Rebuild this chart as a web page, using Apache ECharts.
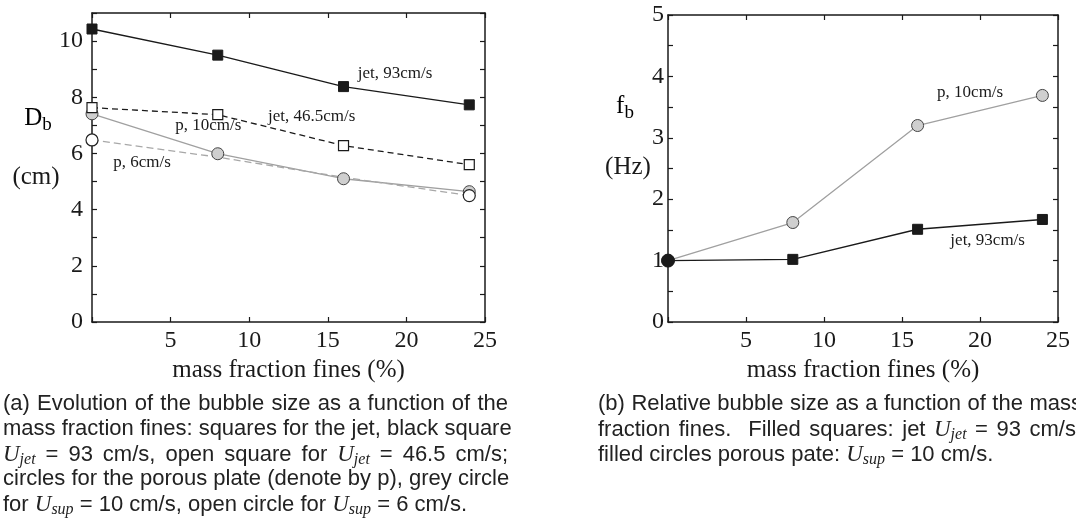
<!DOCTYPE html>
<html><head><meta charset="utf-8">
<script src="https://cdn.jsdelivr.net/npm/echarts@6/dist/echarts.min.js"></script>
<style>html,body{margin:0;padding:0;background:#fff}#c{width:1076px;height:521px}</style>
</head><body><div id="c"></div>
<script>
// ---- data ----
const fines = [0, 8, 16, 24];
const dbJet93 = [10.43, 9.5, 8.38, 7.73];
const dbJet465 = [7.63, 7.38, 6.28, 5.6];
const dbP10 = [7.41, 5.99, 5.1, 4.64];
const dbP6 = [6.48, 5.87, 5.15, 4.5];
const fbP10 = [1.0, 1.62, 3.2, 3.69];
const fbJet93 = [1.0, 1.02, 1.51, 1.67];
const xName = 'mass fraction fines (%)';
// annotation labels: [gridIndex, x, y, text]
const notes = [
  [0, 16.9, 8.83, 'jet, 93cm/s'],
  [0, 11.2, 7.3, 'jet, 46.5cm/s'],
  [0, 5.3, 7.0, 'p, 10cm/s'],
  [0, 1.35, 5.69, 'p, 6cm/s'],
  [1, 17.25, 3.73, 'p, 10cm/s'],
  [1, 18.1, 1.32, 'jet, 93cm/s']
];
const captionA = [
  '(a) Evolution of the bubble size as a function of the',
  'mass fraction fines: squares for the jet, black square',
  '{i|U}{s|jet} = 93 cm/s, open square for {i|U}{s|jet} = 46.5 cm/s;',
  'circles for the porous plate (denote by p), grey circle',
  'for {i|U}{s|sup} = 10 cm/s, open circle for {i|U}{s|sup} = 6 cm/s.'
];
const captionB = [
  '(b) Relative bubble size as a function of the mass',
  'fraction fines.  Filled squares: jet {i|U}{s|jet} = 93 cm/s,',
  'filled circles porous pate: {i|U}{s|sup} = 10 cm/s.'
];

const SERIF = 'Liberation Serif';
const SANS = 'Liberation Sans';
const INK = '#1a1a1a';
const chart = echarts.init(document.getElementById('c'));
const pts = a => fines.map((x, i) => [x, a[i]]);

function xAxes(g) {
  const line = {lineStyle: {color: INK, width: 1.5}, onZero: false};
  const tick = {inside: true, length: 5, lineStyle: {color: INK, width: 1.2}};
  return [
    {gridIndex: g, type: 'value', min: 0, max: 25, interval: 5, axisLine: line, axisTick: tick,
     splitLine: {show: false},
     axisLabel: {formatter: v => v === 0 ? '' : v, fontFamily: SERIF, fontSize: 24, color: INK, margin: 7},
     name: xName, nameLocation: 'middle', nameGap: 30,
     nameTextStyle: {fontFamily: SERIF, fontSize: 25, color: INK}},
    {gridIndex: g, type: 'value', position: 'top', min: 0, max: 25, interval: 5, axisLine: line, axisTick: tick,
     splitLine: {show: false}, axisLabel: {show: false}}
  ];
}
function yAxes(g, max, interval, labelStep, margin) {
  const line = {lineStyle: {color: INK, width: 1.5}, onZero: false};
  const tick = {inside: true, length: 5, lineStyle: {color: INK, width: 1.2}};
  return [
    {gridIndex: g, type: 'value', min: 0, max: max, interval: interval, axisLine: line, axisTick: tick,
     splitLine: {show: false},
     axisLabel: {formatter: v => (Math.abs(v / labelStep - Math.round(v / labelStep)) < 1e-6) ? v : '',
       fontFamily: SERIF, fontSize: 24, color: INK, margin: margin, showMaxLabel: true}},
    {gridIndex: g, type: 'value', position: 'right', min: 0, max: max, interval: interval, axisLine: line, axisTick: tick,
     splitLine: {show: false}, axisLabel: {show: false}}
  ];
}

const CAP_FONT = 22, I_FONT = 23, S_FONT = 16;
const fontOf = {
  plain: CAP_FONT + 'px "' + SANS + '"',
  i: 'italic ' + I_FONT + 'px "' + SERIF + '"',
  s: 'italic ' + S_FONT + 'px "' + SERIF + '"'
};
const mctx = document.createElement('canvas').getContext('2d');
function measure(txt, key) { mctx.font = fontOf[key]; return mctx.measureText(txt).width; }

// justify a rich line to a target width by widening its spaces
function justifyLine(line, target) {
  const parts = [];
  const re = /\{(\w+)\|([^}]*)\}/g;
  let last = 0, m;
  while ((m = re.exec(line))) {
    if (m.index > last) parts.push(['plain', line.slice(last, m.index)]);
    parts.push([m[1], m[2]]);
    last = re.lastIndex;
  }
  if (last < line.length) parts.push(['plain', line.slice(last)]);
  let w = 0, nSp = 0;
  parts.forEach(p => { w += measure(p[1], p[0]); if (p[0] === 'plain') nSp += (p[1].match(/ /g) || []).length; });
  const spW = measure(' ', 'plain');
  const gw = target && nSp ? spW + Math.max(0, (target - w) / nSp) : spW;
  const text = parts.map(p => p[0] === 'plain' ? p[1].replace(/ /g, '{g| }') : '{' + p[0] + '|' + p[1] + '}').join('');
  return {text, gw};
}
function captionGraphics(lines, x, y0, target) {
  return lines.map((t, k) => {
    const j = justifyLine(t, k < lines.length - 1 ? target : 0);
    return {
      type: 'text', left: x, top: y0 + k * 25 - 13,
      style: {text: j.text, fontFamily: SANS, fontSize: CAP_FONT, fill: '#222',
        rich: {
          i: {fontFamily: SERIF, fontStyle: 'italic', fontSize: I_FONT, color: '#222'},
          s: {fontFamily: SERIF, fontStyle: 'italic', fontSize: S_FONT, color: '#222', padding: [11, 0, 0, 0]},
          g: {fontFamily: SANS, fontSize: CAP_FONT, width: j.gw}
        }}
    };
  });
}

const option = {
  animation: false,
  backgroundColor: '#fff',
  grid: [
    {left: 92, top: 13, width: 393, height: 309},
    {left: 668, top: 15, width: 390, height: 307}
  ],
  xAxis: [...xAxes(0), ...xAxes(1)],
  yAxis: [...yAxes(0, 11, 1, 2, 9), ...yAxes(1, 5, 0.5, 1, 4)],
  series: [
    {type: 'line', name: 'p, 10cm/s', xAxisIndex: 0, yAxisIndex: 0, data: pts(dbP10),
     lineStyle: {color: '#a0a0a0', width: 1.3}, symbol: 'circle', symbolSize: 12,
     itemStyle: {color: '#cfcfcf', borderColor: '#444', borderWidth: 1}},
    {type: 'line', name: 'p, 6cm/s', xAxisIndex: 0, yAxisIndex: 0, data: pts(dbP6),
     lineStyle: {color: '#a8a8a8', width: 1.3, type: [7, 4]},
     symbol: (v, p) => (p.dataIndex === 0 || p.dataIndex === 3) ? 'circle' : 'none', symbolSize: 12,
     itemStyle: {color: '#fff', borderColor: '#222', borderWidth: 1.2}},
    {type: 'line', name: 'jet, 46.5cm/s', xAxisIndex: 0, yAxisIndex: 0, data: pts(dbJet465),
     lineStyle: {color: INK, width: 1.3, type: [6, 4]}, symbol: 'rect', symbolSize: 10,
     itemStyle: {color: '#fff', borderColor: INK, borderWidth: 1.2}},
    {type: 'line', name: 'jet, 93cm/s', xAxisIndex: 0, yAxisIndex: 0, data: pts(dbJet93),
     lineStyle: {color: INK, width: 1.4}, symbol: 'rect', symbolSize: 10,
     itemStyle: {color: INK, borderColor: INK}},
    {type: 'line', name: 'p, 10cm/s (f)', xAxisIndex: 2, yAxisIndex: 2, data: pts(fbP10),
     lineStyle: {color: '#a0a0a0', width: 1.3}, symbol: 'circle', symbolSize: 12,
     itemStyle: {color: '#cfcfcf', borderColor: '#444', borderWidth: 1}},
    {type: 'line', name: 'jet, 93cm/s (f)', xAxisIndex: 2, yAxisIndex: 2, data: pts(fbJet93),
     lineStyle: {color: INK, width: 1.4},
     symbol: (v, p) => p.dataIndex === 0 ? 'circle' : 'rect',
     symbolSize: (v, p) => p.dataIndex === 0 ? 13 : 10,
     itemStyle: {color: INK, borderColor: INK}}
  ]
};
chart.setOption(option);

const g = [];
notes.forEach(n => {
  const p = chart.convertToPixel({gridIndex: n[0]}, [n[1], n[2]]);
  g.push({type: 'text', x: p[0], y: p[1], z: 10,
    style: {text: n[3], fontFamily: SERIF, fontSize: 17, fill: INK, verticalAlign: 'middle', align: 'left'}});
});
// y-axis titles
const yRich = {
  m: {fontFamily: SERIF, fontSize: 25, color: INK},
  s: {fontFamily: SERIF, fontSize: 19, color: INK, padding: [14, 0, 0, 0]}
};
g.push({type: 'text', x: 38, y: 118, style: {text: '{m|D}{s|b}', rich: yRich, align: 'center', verticalAlign: 'middle'}});
g.push({type: 'text', x: 36, y: 177, style: {text: '(cm)', fontFamily: SERIF, fontSize: 25, fill: INK, align: 'center', verticalAlign: 'middle'}});
g.push({type: 'text', x: 625, y: 106, style: {text: '{m|f}{s|b}', rich: yRich, align: 'center', verticalAlign: 'middle'}});
g.push({type: 'text', x: 628, y: 167, style: {text: '(Hz)', fontFamily: SERIF, fontSize: 25, fill: INK, align: 'center', verticalAlign: 'middle'}});
g.push(...captionGraphics(captionA, 3, 406, 505));
g.push(...captionGraphics(captionB, 598, 406, 484));
chart.setOption({graphic: g});
</script></body></html>
